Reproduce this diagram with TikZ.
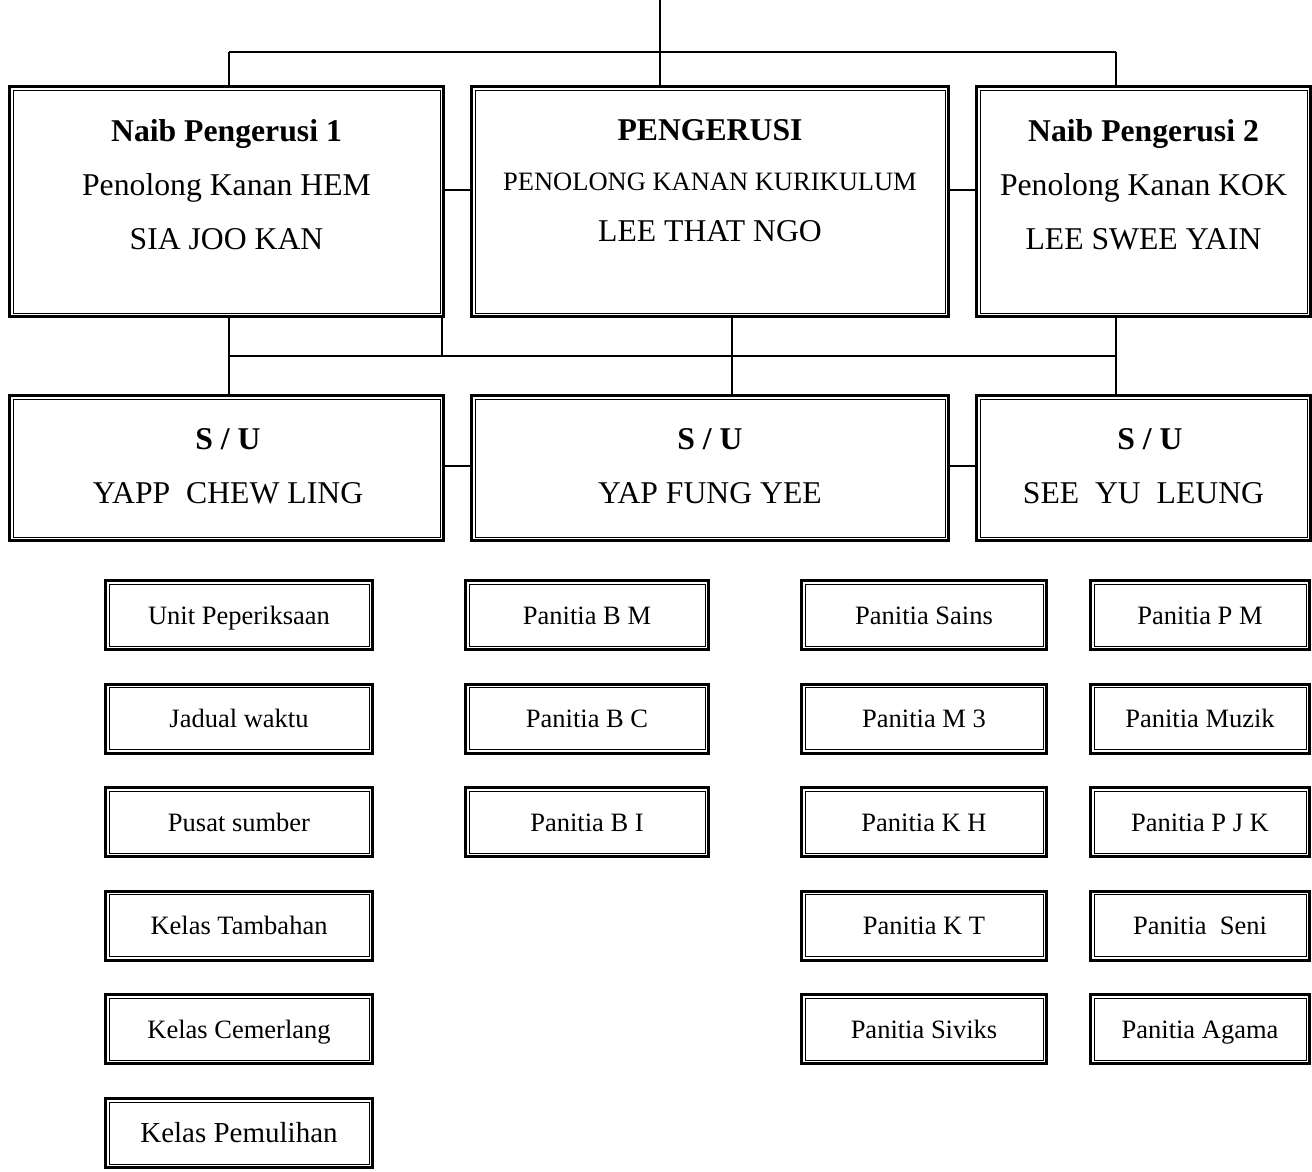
\documentclass[tikz,border=0pt]{standalone}
\usepackage{fontspec}
\setmainfont{Liberation Serif}
\tikzset{
  conn/.style={line width=2pt},
  frame/.style={draw, line width=3pt, outer sep=0pt, inner sep=0pt, align=center},
  small/.style={font=\fontsize{26.5}{30}\selectfont, text height=18pt, text depth=0pt},
  bigtxt/.style={font=\fontsize{31.7}{36}\selectfont, anchor=base, inner sep=0pt},
  bigbold/.style={font=\fontsize{31.7}{36}\selectfont\bfseries, anchor=base, inner sep=0pt},
  midtxt/.style={font=\fontsize{26.5}{30}\selectfont, anchor=base, inner sep=0pt}
}
\newcommand\orgbox[7][]{%
  \node[frame, minimum width=#5pt, minimum height=#6pt, #1] (#2) at (#3,#4) {#7};
  \draw[line width=1pt] ([shift={(3.5pt,3.5pt)}]#2.south west) rectangle ([shift={(-3.5pt,-3.5pt)}]#2.north east);}
\begin{document}
\begin{tikzpicture}[x=1pt,y=-1pt]
\useasboundingbox (0,0) rectangle (1312,1172);
% top row
\orgbox{n1}{226.5}{201.5}{434}{230}{}
\orgbox{pg}{710}{201.5}{477}{230}{}
\orgbox{n2}{1143.5}{201.5}{334}{230}{}
\node[bigbold] (n1a) at (226.5,141) {Naib Pengerusi 1};
\node[bigtxt] (n1b) at (226.5,195) {Penolong Kanan HEM};
\node[bigtxt] (n1c) at (226.5,249.5) {SIA JOO KAN};
\node[bigbold] (pga) at (710,140) {PENGERUSI};
\node[midtxt] (pgb) at (710,190) {PENOLONG KANAN KURIKULUM};
\node[bigtxt] (pgc) at (710,241.5) {LEE THAT NGO};
\node[bigbold] (n2a) at (1143.5,141) {Naib Pengerusi 2};
\node[bigtxt] (n2b) at (1143.5,195) {Penolong Kanan KOK};
\node[bigtxt] (n2c) at (1143.5,249.5) {LEE SWEE YAIN};
% second row
\orgbox{su1}{226.5}{468}{434}{145}{}
\orgbox{su2}{710}{468}{477}{145}{}
\orgbox{su3}{1143.5}{468}{334}{145}{}
\node[bigbold] (su1a) at (228,449.5) {S / U};
\node[bigtxt] (su1b) at (228,503.5) {YAPP\ \ CHEW LING};
\node[bigbold] (su2a) at (710,449.5) {S / U};
\node[bigtxt] (su2b) at (710,503.5) {YAP FUNG YEE};
\node[bigbold] (su3a) at (1150,449.5) {S / U};
\node[bigtxt] (su3b) at (1143.5,503.5) {SEE\ \ YU\ \ LEUNG};
% connectors
\coordinate (top) at (660,0);
\coordinate (ja) at (229,52);
\coordinate (jb) at (1116,52);
\draw[conn] (top) -- (top |- pg.north);
\draw[conn] (ja) -- (jb);
\draw[conn] (ja) -- (ja |- n1.north);
\draw[conn] (jb) -- (jb |- n2.north);
\coordinate (m1) at (0,190);
\draw[conn] (n1.east |- m1) -- (pg.west |- m1);
\draw[conn] (pg.east |- m1) -- (n2.west |- m1);
\coordinate (ka) at (229,356);
\coordinate (kb) at (1116,356);
\coordinate (kc) at (442,356);
\coordinate (kd) at (732,356);
\draw[conn] (ka) -- (kb);
\draw[conn] (ka |- n1.south) -- (ka |- su1.north);
\draw[conn] (kc |- n1.south) -- (kc);
\draw[conn] (kd |- pg.south) -- (kd |- su2.north);
\draw[conn] (kb |- n2.south) -- (kb |- su3.north);
\coordinate (m2) at (0,466);
\draw[conn] (su1.east |- m2) -- (su2.west |- m2);
\draw[conn] (su2.east |- m2) -- (su3.west |- m2);
% small boxes column 1
\orgbox[small]{c1r1}{239}{615}{267}{69}{Unit Peperiksaan}
\orgbox[small]{c1r2}{239}{718.6}{267}{69}{Jadual waktu}
\orgbox[small]{c1r3}{239}{822.2}{267}{69}{Pusat sumber}
\orgbox[small]{c1r4}{239}{925.8}{267}{69}{Kelas Tambahan}
\orgbox[small]{c1r5}{239}{1029.4}{267}{69}{Kelas Cemerlang}
\orgbox[small,font=\fontsize{29}{33}\selectfont]{c1r6}{239}{1133}{267}{69}{Kelas Pemulihan}
% column 2
\orgbox[small]{c2r1}{587}{615}{243}{69}{Panitia B M}
\orgbox[small]{c2r2}{587}{718.6}{243}{69}{Panitia B C}
\orgbox[small]{c2r3}{587}{822.2}{243}{69}{Panitia B I}
% column 3
\orgbox[small]{c3r1}{924}{615}{245}{69}{Panitia Sains}
\orgbox[small]{c3r2}{924}{718.6}{245}{69}{Panitia M 3}
\orgbox[small]{c3r3}{924}{822.2}{245}{69}{Panitia K H}
\orgbox[small]{c3r4}{924}{925.8}{245}{69}{Panitia K T}
\orgbox[small]{c3r5}{924}{1029.4}{245}{69}{Panitia Siviks}
% column 4
\orgbox[small]{c4r1}{1200}{615}{219}{69}{Panitia P M}
\orgbox[small]{c4r2}{1200}{718.6}{219}{69}{Panitia Muzik}
\orgbox[small]{c4r3}{1200}{822.2}{219}{69}{Panitia P J K}
\orgbox[small]{c4r4}{1200}{925.8}{219}{69}{Panitia\ \ Seni}
\orgbox[small]{c4r5}{1200}{1029.4}{219}{69}{Panitia Agama}
\end{tikzpicture}
\end{document}
